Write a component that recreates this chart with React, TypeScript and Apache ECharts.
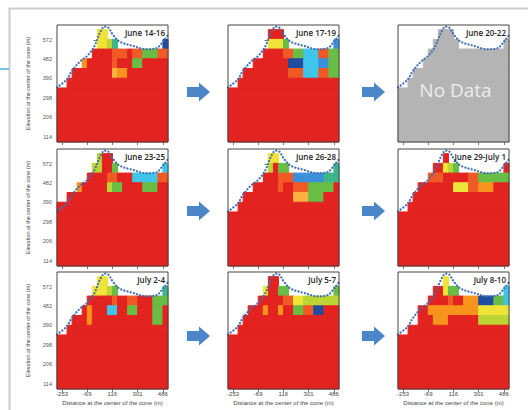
import React, { useEffect, useRef } from "react";
import * as echarts from "echarts";

// ---------- data ----------
const PANEL_TITLES = [
  "June 14-16", "June 17-19", "June 20-22",
  "June 23-25", "June 26-28", "June 29-July 1",
  "July 2-4", "July 5-7", "July 8-10",
];
const X_TICKS = [-253, -69, 116, 301, 486];
const Y_TICKS = [114, 206, 298, 390, 482, 572];

// grid of cells: 22 half-columns (37 m) x rows of 46 m, rows listed from row 11 (574-620 m) to row 6 (344-390 m)
// R red, r orange-red, O orange, o light orange, Y yellow, y yellow-green, G green,
// g teal, C cyan, b light blue, B dark blue, X no data (gray), . empty
const JUNE_14_16 = [
  "........YY............",
  "........YYyg.........B",
  ".......RRRRrrrRrrGGGrr",
  ".....ORRRRRrRRRGGRRRRR",
  "...RRRRRRRRoOORRRRRRRR",
  "..RRRRRRRRRRRRRRRRRRRR",
];
const JUNE_17_19 = [
  "........RRR...........",
  "........YYYG.........b",
  ".......RRRRrrGGCCCrrGG",
  ".....RRRRRRRBBBCCCbbGG",
  "...RRRRRRRRRrrrCCCrrGG",
  "..RRRRRRRRRRRRRRRRRRRR",
];
const JUNE_20_22 = [
  "........XXX...........",
  ".......XXXXX.........X",
  "......XXXXXXXXXXXXXXXX",
  ".....XXXXXXXXXXXXXXXXX",
  "...XXXXXXXXXXXXXXXXXXX",
  "..XXXXXXXXXXXXXXXXXXXX",
];
const JUNE_23_25 = [
  "........yRR...........",
  ".......yyRRG.........C",
  "......RRRRrrRRRCCCCCrr",
  "....ORRRRRyGGRRRRGGGRR",
  "..RRRRRRRRRRRRRRRRRRRR",
  "RRRRRRRRRRRRRRRRRRRRRR",
];
const JUNE_26_28 = [
  "........YY............",
  "........yRGG.........g",
  ".......RRRrrrbbbbbbggg",
  ".....RRRRRrRRrrrGGGGGR",
  "...RRRRRRRRRRoooGGGRRR",
  "..RRRRRRRRRRRRRRRRRRRR",
];
const JUNE_29_JULY_1 = [
  ".........R............",
  ".......RRYyG.........R",
  "......rrrRRRRRrrGGGGGG",
  "....RRRRRRRYYYrrOOORRR",
  "...RRRRRRRRRRRRRRRRRRR",
  "..RRRRRRRRRRRRRRRRRRRR",
];
const JULY_2_4 = [
  "........YY............",
  ".......YYYyG.........g",
  "......RRRRRrRRrrRRRGGG",
  ".....RORRRCCRRGGRRRGGR",
  "...RRRORRRRRRRRRRRRGGR",
  "..RRRRRRRRRRRRRRRRRRRR",
];
const JULY_5_7 = [
  "........RR............",
  ".......YRRGG.........G",
  "......RRRRRrrYYyyyyyyy",
  "....RRRORRORRGGrrBBRRR",
  "...RRRRRRRRRRRRRRRRRRR",
  "..RRRRRRRRRRRRRRRRRRRR",
];
const JULY_8_10 = [
  ".........Y............",
  ".......RRYGG.........C",
  "......RRRRrRROOOBBBGGC",
  "....RROOOOOOOOOOYYYYYY",
  "....RRROOORRRRRRyyyyyy",
  "..RRRRRRRRRRRRRRRRRRRR",
];
const PANEL_CELLS = [
  JUNE_14_16, JUNE_17_19, JUNE_20_22,
  JUNE_23_25, JUNE_26_28, JUNE_29_JULY_1,
  JULY_2_4, JULY_5_7, JULY_8_10,
];
const PANEL_FILL = ["R", "R", "X", "R", "R", "R", "R", "R", "R"];

// cone surface profile (dotted line)
const PROFILE_X = [-290, -221, -184, -123, -70, -18, 23, 60, 84, 121, 170, 267, 366, 439, 487, 524];
const PROFILE_ELEV = [347, 382, 421, 468, 495, 539, 603, 634, 631, 595, 563, 543, 527, 532, 563, 595];

// ---------- styling / layout ----------
const COLOR_CODES = "RrOoYyGgCbBX";
const COLORS = [
  "#e2231f", "#f15a25", "#f7941d", "#fbb040", "#efe437", "#bcd534",
  "#69bd45", "#3cb48c", "#3fc4ea", "#3b8fdb", "#1f4c9f", "#b4b4b4",
];
const X_MIN = -290, X_MAX = 524, CELL_W = 37;
const Y_MIN = 88, Y_MAX = 642, ROW_BASE = 68, CELL_H = 46, TOP_ROW = 11;
const GRID_LEFT = [57, 228, 398];
const GRID_TOP = [25, 149, 272];
const GRID_W = 111, GRID_H = 117;
const ARROW_X = [187, 362];
const ARROW_Y = [92, 211, 336];

function buildRuns(rows: string[], fill: string) {
  const out: number[][] = [];
  out.push([X_MIN, X_MAX, ROW_BASE, ROW_BASE + (TOP_ROW - rows.length + 1) * CELL_H, COLOR_CODES.indexOf(fill)]);
  rows.forEach((s, k) => {
    const r = TOP_ROW - k;
    let j = 0;
    while (j < s.length) {
      const c = s[j];
      if (c === ".") { j++; continue; }
      let e = j;
      while (e < s.length && s[e] === c) e++;
      out.push([X_MIN + j * CELL_W, X_MIN + e * CELL_W, ROW_BASE + r * CELL_H, ROW_BASE + (r + 1) * CELL_H, COLOR_CODES.indexOf(c)]);
      j = e;
    }
  });
  return out;
}

function renderCell(params: any, api: any) {
  const p0 = api.coord([api.value(0), api.value(3)]);
  const p1 = api.coord([api.value(1), api.value(2)]);
  const cs = params.coordSys;
  const rect = echarts.graphic.clipRectByRect(
    { x: p0[0], y: p0[1], width: p1[0] - p0[0], height: p1[1] - p0[1] },
    { x: cs.x, y: cs.y, width: cs.width, height: cs.height }
  );
  if (!rect) return null;
  const color = COLORS[api.value(4)];
  return { type: "rect", shape: rect, style: { fill: color, stroke: color, lineWidth: 1 } };
}

export default function App() {
  const ref = useRef<HTMLDivElement>(null);
  useEffect(() => {
    document.body.style.margin = "0";
    if (!ref.current) return;
    const chart = echarts.init(ref.current, null, { renderer: "svg" });
    const grids: any[] = [], xAxes: any[] = [], yAxes: any[] = [], series: any[] = [];
    const elements: any[] = [];
    const fontFamily = "Liberation Sans";

    // figure border decoration
    elements.push({ type: "line", shape: { x1: 9, y1: 8.5, x2: 528, y2: 8.5 }, style: { stroke: "#cccccc", lineWidth: 2 }, z: 1 });
    elements.push({ type: "line", shape: { x1: 9.5, y1: 8, x2: 9.5, y2: 410 }, style: { stroke: "#cccccc", lineWidth: 2 }, z: 1 });
    elements.push({ type: "line", shape: { x1: 0, y1: 69, x2: 9, y2: 69 }, style: { stroke: "#4aaee0", lineWidth: 1.5 }, z: 1 });

    for (let i = 0; i < 9; i++) {
      const row = Math.floor(i / 3), col = i % 3;
      const left = GRID_LEFT[col], top = GRID_TOP[row];
      grids.push({ left, top, width: GRID_W, height: GRID_H, containLabel: false });
      xAxes.push({
        gridIndex: i, type: "value", min: X_MIN, max: X_MAX,
        axisLine: { show: false }, splitLine: { show: false },
        axisTick: { show: true, customValues: X_TICKS, length: 3, lineStyle: { color: "#555", width: 0.8 } },
        axisLabel: { show: row === 2, customValues: X_TICKS, fontSize: 6, color: "#444", margin: 2, fontFamily },
        name: row === 2 ? "Distance at the center of the cone (m)" : "",
        nameLocation: "middle", nameGap: 11,
        nameTextStyle: { fontSize: 6, color: "#444", fontFamily },
      });
      yAxes.push({
        gridIndex: i, type: "value", min: Y_MIN, max: Y_MAX,
        axisLine: { show: false }, splitLine: { show: false },
        axisTick: { show: true, customValues: Y_TICKS, length: 3, lineStyle: { color: "#555", width: 0.8 } },
        axisLabel: { show: col === 0, customValues: Y_TICKS, fontSize: 5.5, color: "#555", margin: 5, fontFamily },
        name: col === 0 ? "Elevation at the center of the cone (m)" : "",
        nameLocation: "middle", nameGap: 26, nameRotate: 90,
        nameTextStyle: { fontSize: 5.5, color: "#444", fontFamily },
      });
      series.push({
        type: "custom", xAxisIndex: i, yAxisIndex: i, silent: true, z: 2,
        data: buildRuns(PANEL_CELLS[i], PANEL_FILL[i]),
        encode: { x: [0, 1], y: [2, 3] },
        renderItem: renderCell,
      });
      series.push({
        type: "line", xAxisIndex: i, yAxisIndex: i, silent: true, z: 5,
        data: PROFILE_X.map((x, k) => [x, PROFILE_ELEV[k]]),
        symbol: "none", smooth: 0.35,
        lineStyle: { color: "#3d6db5", width: 2.2, type: [0.1, 3.2], cap: "round" },
      });
      elements.push({
        type: "rect", shape: { x: left, y: top, width: GRID_W, height: GRID_H },
        style: { fill: "none", stroke: "#444", lineWidth: 1 }, z: 20, silent: true,
      });
      elements.push({
        type: "text", x: left + GRID_W - 3, y: top + 3, z: 21, silent: true,
        style: { text: PANEL_TITLES[i], align: "right", verticalAlign: "top", fontSize: 8, fontWeight: 600, fontFamily: "Open Sans", fill: "#222" },
      });
    }
    // No data label
    elements.push({
      type: "text", x: GRID_LEFT[2] + GRID_W / 2 + 2, y: GRID_TOP[0] + 65, z: 21, silent: true,
      style: { text: "No Data", align: "center", verticalAlign: "middle", fontSize: 19, fontFamily: "Open Sans", fill: "#ececec" },
    });
    // arrows
    for (const ay of ARROW_Y) {
      for (const ax of ARROW_X) {
        elements.push({
          type: "polygon", z: 21, silent: true,
          shape: { points: [[ax, ay - 5], [ax + 12, ay - 5], [ax + 12, ay - 9.5], [ax + 23, ay], [ax + 12, ay + 9.5], [ax + 12, ay + 5], [ax, ay + 5]] },
          style: { fill: "#4a86c8" },
        });
      }
    }

    chart.setOption({
      animation: false,
      backgroundColor: "#ffffff",
      grid: grids, xAxis: xAxes, yAxis: yAxes, series,
      graphic: { elements },
    });
    return () => chart.dispose();
  }, []);
  return <div ref={ref} style={{ width: 528, height: 410 }} />;
}
